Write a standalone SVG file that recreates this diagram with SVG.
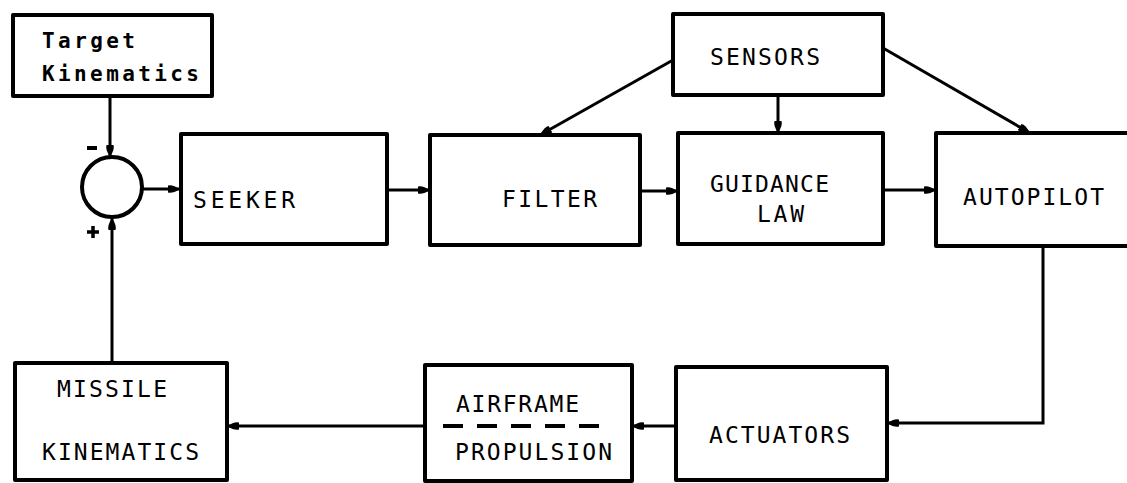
<svg xmlns="http://www.w3.org/2000/svg" width="1127" height="483" viewBox="0 0 1127 483">
<style>
.box{fill:#fff;stroke:#000;stroke-width:4;stroke-linejoin:round}
.lbl{font-family:"DejaVu Sans Mono","Liberation Mono",monospace;font-size:23px;fill:#000}
.bold{font-family:"DejaVu Sans Mono","Liberation Mono",monospace;font-size:21px;font-weight:bold;fill:#000}
.con{fill:none;stroke:#000;stroke-width:3}
</style>
<defs>
<marker id="ah" viewBox="0 0 12 10" refX="12" refY="5" markerWidth="12" markerHeight="10" markerUnits="userSpaceOnUse" orient="auto">
<path d="M0,1.5 Q4,0 12,5 Q4,10 0,8.5 Z" fill="#000"/>
</marker>
</defs>
<rect width="1127" height="483" fill="#fff"/>
<g id="connectors">
<line class="con" x1="110" y1="95" x2="110" y2="157" marker-end="url(#ah)"/>
<line class="con" x1="142" y1="189" x2="180" y2="189" marker-end="url(#ah)"/>
<line class="con" x1="387" y1="190" x2="430" y2="190" marker-end="url(#ah)"/>
<line class="con" x1="640" y1="191" x2="678" y2="191" marker-end="url(#ah)"/>
<line class="con" x1="883" y1="190" x2="936" y2="190" marker-end="url(#ah)"/>
<line class="con" x1="673" y1="60" x2="540" y2="135" marker-end="url(#ah)"/>
<line class="con" x1="778" y1="95" x2="778" y2="133" marker-end="url(#ah)"/>
<line class="con" x1="883" y1="48" x2="1030" y2="133" marker-end="url(#ah)"/>
<polyline class="con" points="1043,246 1043,423 887,423" marker-end="url(#ah)"/>
<line class="con" x1="676" y1="426" x2="632" y2="426" marker-end="url(#ah)"/>
<line class="con" x1="425" y1="426" x2="227" y2="426" marker-end="url(#ah)"/>
<line class="con" x1="112" y1="363" x2="112" y2="218" marker-end="url(#ah)"/>
</g>
<g id="target">
<rect class="box" x="13" y="15" width="199" height="81"/>
<text class="bold" x="42" y="48" textLength="93" lengthAdjust="spacing">Target</text>
<text class="bold" x="42" y="81" textLength="157" lengthAdjust="spacing">Kinematics</text>
</g>
<g id="sum">
<circle cx="112" cy="187" r="30" fill="#fff" stroke="#000" stroke-width="4"/>
<line x1="87" y1="148" x2="97" y2="148" stroke="#000" stroke-width="4"/>
<path d="M87,232 H99 M93,226 V238" stroke="#000" stroke-width="3.5" fill="none"/>
</g>
<g id="seeker">
<rect class="box" x="181" y="134" width="206" height="110"/>
<text class="lbl" x="193" y="208" textLength="102" lengthAdjust="spacing">SEEKER</text>
</g>
<g id="filter">
<rect class="box" x="430" y="135" width="210" height="110"/>
<text class="lbl" x="502" y="207" textLength="95" lengthAdjust="spacing">FILTER</text>
</g>
<g id="sensors">
<rect class="box" x="673" y="14" width="210" height="81"/>
<text class="lbl" x="710" y="65" textLength="110" lengthAdjust="spacing">SENSORS</text>
</g>
<g id="guidance">
<rect class="box" x="678" y="133" width="205" height="111"/>
<text class="lbl" x="710" y="192" textLength="119" lengthAdjust="spacing">GUIDANCE</text>
<text class="lbl" x="757" y="222" textLength="47" lengthAdjust="spacing">LAW</text>
</g>
<g id="autopilot">
<rect class="box" x="936" y="133" width="210" height="113"/>
<text class="lbl" x="963" y="205" textLength="141" lengthAdjust="spacing">AUTOPILOT</text>
</g>
<g id="actuators">
<rect class="box" x="676" y="367" width="211" height="113"/>
<text class="lbl" x="709" y="443" textLength="141" lengthAdjust="spacing">ACTUATORS</text>
</g>
<g id="airframe">
<rect class="box" x="425" y="365" width="207" height="116"/>
<text class="lbl" x="456" y="412" textLength="123" lengthAdjust="spacing">AIRFRAME</text>
<line x1="443" y1="426" x2="612" y2="426" stroke="#000" stroke-width="4" stroke-dasharray="20 14"/>
<text class="lbl" x="455" y="460" textLength="157" lengthAdjust="spacing">PROPULSION</text>
</g>
<g id="missile">
<rect class="box" x="15" y="363" width="212" height="117"/>
<text class="lbl" x="57" y="397" textLength="110" lengthAdjust="spacing">MISSILE</text>
<text class="lbl" x="42" y="460" textLength="157" lengthAdjust="spacing">KINEMATICS</text>
</g>
</svg>
